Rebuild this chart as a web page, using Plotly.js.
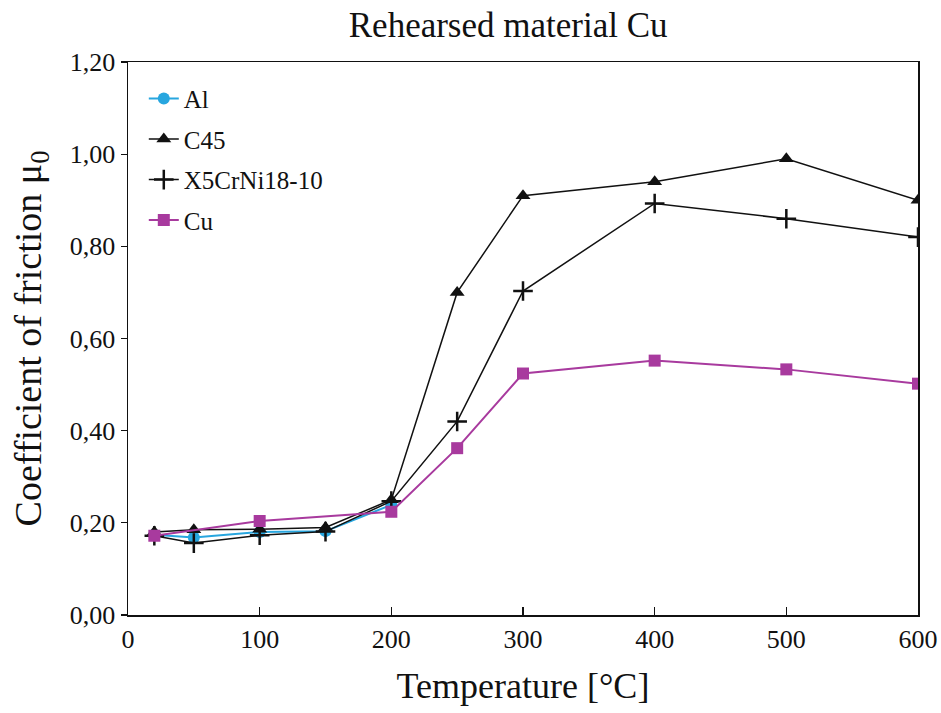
<!DOCTYPE html>
<html>
<head>
<meta charset="utf-8">
<script src="https://cdn.plot.ly/plotly-3.0.1.min.js"></script>
<style>html,body{margin:0;padding:0;background:#fff;}#chart{width:941px;height:713px;}</style>
</head>
<body>
<div id="chart"></div>
<script>
const tempAl = [20, 50, 100, 150, 200];
const muAl = [0.174, 0.168, 0.180, 0.182, 0.239];

const tempC45 = [20, 50, 100, 150, 200, 250, 300, 400, 500, 600];
const muC45 = [0.180, 0.185, 0.186, 0.190, 0.250, 0.700, 0.910, 0.940, 0.990, 0.900];

const tempX5 = [20, 50, 100, 150, 200, 250, 300, 400, 500, 600];
const muX5 = [0.172, 0.156, 0.173, 0.181, 0.247, 0.420, 0.703, 0.893, 0.860, 0.820];

const tempCu = [20, 100, 200, 250, 300, 400, 500, 600];
const muCu = [0.172, 0.204, 0.224, 0.362, 0.524, 0.552, 0.533, 0.502];

const yTicks = [0, 0.2, 0.4, 0.6, 0.8, 1.0, 1.2];
const xTicks = [0, 100, 200, 300, 400, 500, 600];

const serif = "'Liberation Serif', 'Times New Roman', 'DejaVu Serif', serif";
const cyan = "#27a6df";
const magenta = "#a83a9e";

const traces = [
  {x: tempAl, y: muAl, name: "Al", legendgroup: "a", mode: "lines+markers",
   line: {color: cyan, width: 2}, marker: {symbol: "circle", size: 12, color: cyan}},
  {x: tempC45, y: muC45, name: "C45", legendgroup: "b", mode: "lines+markers",
   line: {color: "#111", width: 1.5}, marker: {symbol: "triangle-up", size: 13, color: "#111"}},
  {x: tempX5, y: muX5, name: "X5CrNi18-10", legendgroup: "c", mode: "lines+markers",
   line: {color: "#111", width: 1.5}, marker: {symbol: "cross-thin", size: 14, color: "#111", line: {width: 2.5, color: "#111"}}},
  {x: tempCu, y: muCu, name: "Cu", legendgroup: "d", mode: "lines+markers",
   line: {color: magenta, width: 2}, marker: {symbol: "square", size: 12, color: magenta}}
];

const layout = {
  width: 941, height: 713,
  margin: {l: 128, r: 23, t: 62, b: 98},
  paper_bgcolor: "#fff", plot_bgcolor: "#fff",
  separators: ",.",
  font: {family: serif, color: "#111", size: 24},
  title: {text: "Rehearsed material Cu", font: {family: serif, size: 35, color: "#111"},
          x: 0.54, xanchor: "center", y: 0.965, yanchor: "middle"},
  xaxis: {
    range: [0, 600], tickvals: xTicks, ticks: "inside", ticklen: 8, tickwidth: 1.2, tickcolor: "#111",
    showgrid: false, zeroline: false, showline: true, linecolor: "#111", linewidth: 1.5, mirror: true,
    tickfont: {family: serif, size: 26, color: "#111"},
    title: {text: "Temperature [°C]", font: {family: serif, size: 36, color: "#111"}, standoff: 20}
  },
  yaxis: {
    range: [0, 1.2], tickvals: yTicks, tickformat: ".2f", ticks: "outside", ticklen: 6, tickwidth: 1.2, tickcolor: "#111",
    showgrid: false, zeroline: false, showline: true, linecolor: "#111", linewidth: 1.5, mirror: true,
    tickfont: {family: serif, size: 26, color: "#111"},
    title: {text: "Coefficient of friction μ<sub>0</sub>", font: {family: serif, size: 38, color: "#111"}, standoff: 16}
  },
  legend: {x: 0.02, y: 0.975, xanchor: "left", yanchor: "top", bgcolor: "rgba(0,0,0,0)",
           font: {family: serif, size: 25, color: "#111"}, tracegroupgap: 5, itemwidth: 30},
  showlegend: true
};

Plotly.newPlot("chart", traces, layout, {displayModeBar: false, staticPlot: true});
</script>
</body>
</html>
